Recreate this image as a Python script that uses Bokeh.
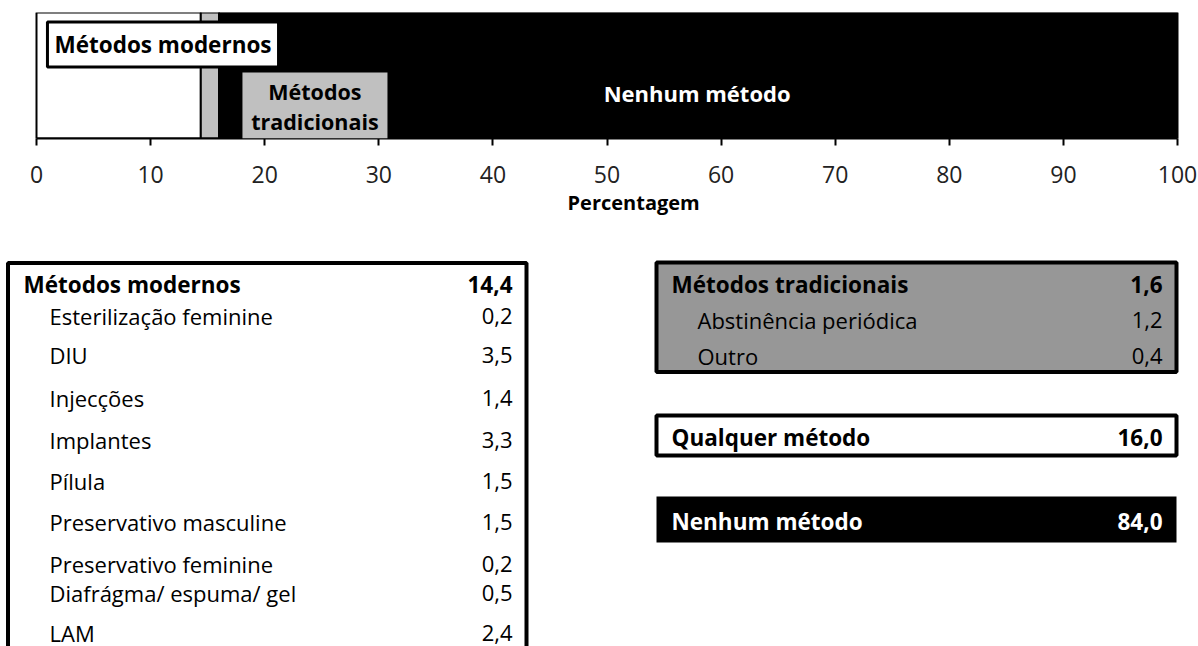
from bokeh.plotting import figure
from bokeh.models import ColumnDataSource, Range1d, FixedTicker, Label, BoxAnnotation, Title
from bokeh.layouts import column
from bokeh.embed import file_html
from bokeh.resources import INLINE
from bokeh.core.properties import value

# ---------------- data ----------------
segment_names = ["Métodos modernos", "Métodos tradicionais", "Nenhum método"]
segment_values = [14.4, 1.6, 84.0]
segment_colors = ["#ffffff", "#c0c0c0", "#000000"]

modern_title = "Métodos modernos"
modern_total = 14.4
modern_labels = ["Esterilização feminine", "DIU", "Injecções", "Implantes", "Pílula",
                 "Preservativo masculine", "Preservativo feminine",
                 "Diafrágma/ espuma/ gel", "LAM"]
modern_values = [0.2, 3.5, 1.4, 3.3, 1.5, 1.5, 0.2, 0.5, 2.4]

trad_title = "Métodos tradicionais"
trad_total = 1.6
trad_labels = ["Abstinência periódica", "Outro"]
trad_values = [1.2, 0.4]

any_title = "Qualquer método"
any_total = 16.0
none_title = "Nenhum método"
none_total = 84.0

x_ticks = [0, 10, 20, 30, 40, 50, 60, 70, 80, 90, 100]
x_title = "Percentagem"

FONT = value("Open Sans")


def fmt(v):
    return f"{v:.1f}".replace(".", ",")


# ---------------- layout constants ----------------
W = 1198
H1 = 235
H2 = 646 - H1
AX_LEFT_PX = 36      # pixel of x = 0
AX_RIGHT_PX = 1177   # pixel of x = 100
PX_PER_UNIT = (AX_RIGHT_PX - AX_LEFT_PX) / 100.0

# ---------------- top stacked bar ----------------
left = []
right = []
acc = 0.0
for v in segment_values:
    left.append(acc)
    acc += v
    right.append(acc)

bar_src = ColumnDataSource(dict(name=segment_names, left=left, right=right,
                                color=segment_colors, y=[0.5] * 3))

p = figure(width=W, height=H1, output_backend="svg", toolbar_location=None,
           x_range=Range1d(-AX_LEFT_PX / PX_PER_UNIT, (W - AX_LEFT_PX) / PX_PER_UNIT),
           y_range=Range1d(0, 1),
           y_axis_location=None, min_border_left=0, min_border_right=0,
           min_border_top=12, min_border_bottom=97)
p.outline_line_color = None
p.xgrid.visible = False
p.ygrid.visible = False
p.hbar(y="y", left="left", right="right", height=1, fill_color="color",
       line_color="#000000", line_width=2, source=bar_src)

ax = p.xaxis[0]
ax.bounds = (0, 100)
ax.ticker = FixedTicker(ticks=x_ticks)
ax.axis_line_width = 2
ax.axis_line_color = "#000000"
ax.major_tick_line_width = 2
ax.major_tick_line_color = "#000000"
ax.major_tick_in = 0
ax.major_tick_out = 7
ax.minor_tick_line_color = None
ax.major_label_text_font = "Open Sans"
ax.major_label_text_font_size = "23px"
ax.major_label_text_color = "#222222"
ax.major_label_standoff = 20

# axis title (placed below the axis, slightly right of centre as in the original)
p.add_layout(Title(text=x_title, align="left", offset=567, standoff=2,
                   text_font="Open Sans", text_font_style="bold",
                   text_font_size="20px", text_color="#000000"), "below")

# in-bar labels
p.add_layout(Label(x=0.96, y=0.746, text=segment_names[0], text_font="Open Sans",
                   text_font_style="bold", text_font_size="22.5px", text_color="#000000",
                   text_align="left", text_baseline="middle",
                   background_fill_color="#ffffff", border_line_color="#000000",
                   border_line_width=3, padding=7))
p.add_layout(BoxAnnotation(left=18.05, right=30.76, bottom=0, top=0.524,
                           fill_color="#c0c0c0", fill_alpha=1.0, line_color=None))
p.add_layout(Label(x=24.4, y=0.373, text="Métodos", text_font="Open Sans",
                   text_font_style="bold", text_font_size="21.5px", text_color="#000000",
                   text_align="center", text_baseline="middle"))
p.add_layout(Label(x=24.4, y=0.135, text="tradicionais", text_font="Open Sans",
                   text_font_style="bold", text_font_size="21.5px", text_color="#000000",
                   text_align="center", text_baseline="middle"))
p.add_layout(Label(x=57.9, y=0.36, text=segment_names[2], text_font="Open Sans",
                   text_font_style="bold", text_font_size="22px", text_color="#ffffff",
                   text_align="center", text_baseline="middle"))

# ---------------- bottom: summary tables (pixel coordinates) ----------------
q = figure(width=W, height=H2, output_backend="svg", toolbar_location=None,
           x_range=Range1d(0, W), y_range=Range1d(646, H1),
           x_axis_location=None, y_axis_location=None, min_border=0,
           min_border_left=0, min_border_right=0, min_border_top=0, min_border_bottom=0)
q.outline_line_color = None
q.xgrid.visible = False
q.ygrid.visible = False

# boxes (layout)
q.quad(left=[7.5], right=[526], top=[262.5], bottom=[720],
       fill_color="#ffffff", line_color="#000000", line_width=4)
q.quad(left=[656], right=[1176], top=[262], bottom=[371.5],
       fill_color="#979797", line_color="#000000", line_width=4)
q.quad(left=[656], right=[1176], top=[415], bottom=[455],
       fill_color="#ffffff", line_color="#000000", line_width=4)
q.quad(left=[656], right=[1176], top=[496], bottom=[542],
       fill_color="#000000", line_color="#000000", line_width=0)

# row baselines (layout, corrected for the renderer's baseline offset)
SHIFT = 8
left_title_y = 292 - SHIFT
left_rows_y = [y - SHIFT for y in [323, 362, 405, 447, 488, 529, 571, 600, 640]]
right_title_y = 292 - SHIFT
right_rows_y = [y - SHIFT for y in [327, 363]]
any_y = 445 - SHIFT
none_y = 529 - SHIFT


def put(xs, ys, texts, bold, align, color="#000000"):
    src = ColumnDataSource(dict(x=xs, y=ys, text=texts))
    q.text(x="x", y="y", text="text", source=src, text_font=FONT,
           text_font_style="bold" if bold else "normal",
           text_font_size="22.5px" if bold else "22px",
           text_align=align, text_baseline="alphabetic", text_color=color)


# left table
put([23], [left_title_y], [modern_title], True, "left")
put([512], [left_title_y], [fmt(modern_total)], True, "right")
put([49] * len(modern_labels), left_rows_y, modern_labels, False, "left")
put([512] * len(modern_values), left_rows_y, [fmt(v) for v in modern_values], False, "right")

# traditional table
put([671], [right_title_y], [trad_title], True, "left")
put([1162], [right_title_y], [fmt(trad_total)], True, "right")
put([697] * len(trad_labels), right_rows_y, trad_labels, False, "left")
put([1162] * len(trad_values), right_rows_y, [fmt(v) for v in trad_values], False, "right")

# any / none
put([671], [any_y], [any_title], True, "left")
put([1162], [any_y], [fmt(any_total)], True, "right")
put([671], [none_y], [none_title], True, "left", color="#ffffff")
put([1162], [none_y], [fmt(none_total)], True, "right", color="#ffffff")

layout = column(p, q, spacing=0)
open("out.html", "w").write(file_html(layout, INLINE))
